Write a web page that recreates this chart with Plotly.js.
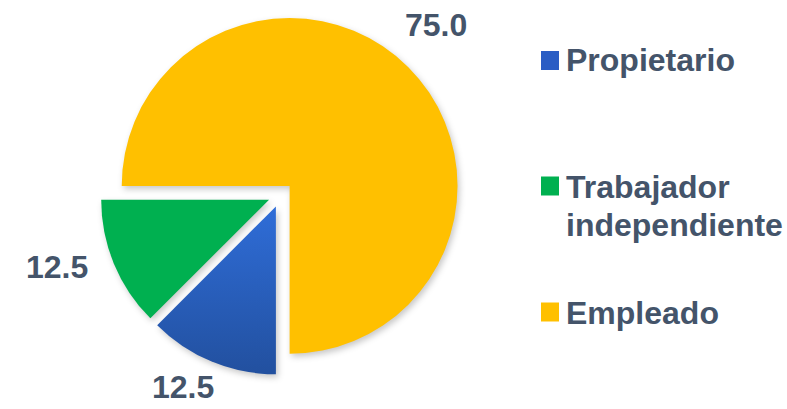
<!DOCTYPE html>
<html>
<head>
<meta charset="utf-8">
<script src="https://cdn.plot.ly/plotly-3.0.1.min.js"></script>
<style>
  html, body { margin: 0; padding: 0; background: #ffffff; }
  #chart { width: 787px; height: 409px; }
  .slice path.surface { filter: drop-shadow(2px 3px 3px rgba(0,0,0,0.22)); }
</style>
</head>
<body>
<div id="chart"></div>
<script>
// ---- data ----
const categories = ["Propietario", "Trabajador independiente", "Empleado"];
const values = [12.5, 12.5, 75.0];
const colors = ["#2A5DC4", "#00B050", "#FFC000"];

// ---- styles ----
const textColor = "#44546A";
const fontFamily = "'Liberation Sans', Arial, sans-serif";
const fontSize = 32;
const W = 787, H = 409;
const py = p => 1 - p / H;
const px = p => p / W;

const domX = [0.1217, 0.5917], domY = [0.0824, 0.965];
const startAngle = 180;

const trace = {
  type: "pie",
  labels: categories,
  values: values,
  sort: false,
  direction: "clockwise",
  rotation: startAngle,
  pull: [0.075, 0.075, 0.075],
  marker: { colors: colors, line: { width: 0 } },
  textinfo: "none",
  hoverinfo: "label+value",
  showlegend: false,
  domain: { x: domX, y: domY }
};

const shapes = [];
const annotations = [];

// value labels placed outside each slice along its mid-angle
const total = values.reduce((a, b) => a + b, 0);
const pieCx = W * (domX[0] + domX[1]) / 2;
const boxH = H * (domY[1] - domY[0]);
const pieCy = H * (1 - domY[0]) - boxH / 2;
const labelCx = pieCx - 9, labelCy = pieCy - 13, labelRx = 232, labelRy = 222;
let cum = 0;
values.forEach((v, i) => {
  const mid = (startAngle + 360 * (cum + v / 2) / total) * Math.PI / 180;
  cum += v;
  annotations.push({
    xref: "paper", yref: "paper",
    x: px(labelCx + labelRx * Math.sin(mid)),
    y: py(labelCy - labelRy * Math.cos(mid)),
    xanchor: "center", yanchor: "middle",
    text: "<b>" + v.toFixed(1) + "</b>",
    showarrow: false, borderpad: 0,
    font: { family: fontFamily, size: fontSize, color: textColor }
  });
});

// legend built from the category list
const swatchRows = [60.5, 186, 312];                 // swatch centers (px)
const lineRows = [[60.5], [186.5, 225.5], [312.5]];  // text line centers (px)
categories.forEach((c, i) => {
  const cy = swatchRows[i];
  shapes.push({
    type: "rect", xref: "paper", yref: "paper",
    x0: px(541), x1: px(559), y0: py(cy + 9.5), y1: py(cy - 9.5),
    fillcolor: colors[i], line: { width: 0 }
  });
  const words = c.split(" ");
  words.forEach((w, j) => {
    annotations.push({
      xref: "paper", yref: "paper",
      x: px(564), y: py(lineRows[i][j]), xanchor: "left", yanchor: "middle",
      text: "<b>" + w + "</b>",
      showarrow: false, align: "left",
      font: { family: fontFamily, size: fontSize, color: textColor }
    });
  });
});

const layout = {
  width: W, height: H,
  margin: { l: 0, r: 0, t: 0, b: 0 },
  paper_bgcolor: "#ffffff",
  plot_bgcolor: "#ffffff",
  showlegend: false,
  shapes: shapes,
  annotations: annotations
};

Plotly.newPlot("chart", [trace], layout, { displayModeBar: false, staticPlot: true }).then(gd => {
  // vertical shading on the first slice, as in the original
  const svg = gd.querySelector("svg.main-svg");
  const ns = "http://www.w3.org/2000/svg";
  let defs = svg.querySelector("defs");
  if (!defs) { defs = document.createElementNS(ns, "defs"); svg.insertBefore(defs, svg.firstChild); }
  const g = document.createElementNS(ns, "linearGradient");
  g.setAttribute("id", "blueShade");
  g.setAttribute("x1", "0"); g.setAttribute("y1", "0");
  g.setAttribute("x2", "0"); g.setAttribute("y2", "1");
  [["0", "#2F6DD8"], ["1", "#22509F"]].forEach(([o, col]) => {
    const s = document.createElementNS(ns, "stop");
    s.setAttribute("offset", o); s.setAttribute("stop-color", col);
    g.appendChild(s);
  });
  defs.appendChild(g);
  const first = gd.querySelectorAll(".slice path.surface")[0];
  if (first) first.style.fill = "url(#blueShade)";
});
</script>
</body>
</html>
